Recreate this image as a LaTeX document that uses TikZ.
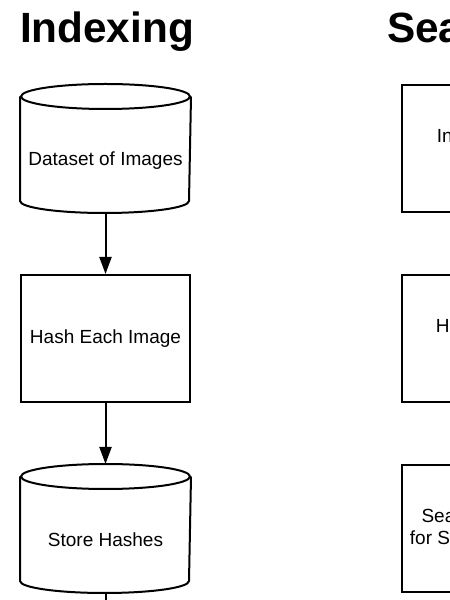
\documentclass[tikz,border=0pt]{standalone}
\usepackage{fontspec}
\setmainfont{Liberation Sans}
\usetikzlibrary{arrows.meta}
\begin{document}
\begin{tikzpicture}[x=1pt,y=1pt,
  line width=2pt,
  title/.style={anchor=base west,inner sep=0pt,font=\fontsize{42.3}{48}\selectfont\bfseries},
  boxnode/.style={draw,rectangle,minimum width=169pt,minimum height=127pt,inner sep=0pt,
     align=center,font=\fontsize{19}{22}\selectfont},
  cylframe/.style={rectangle,minimum width=169pt,minimum height=127pt,inner sep=0pt},
  cyltext/.style={inner sep=0pt,align=center,font=\fontsize{19}{22}\selectfont},
  arr/.style={-{Triangle[length=17pt,width=12pt]}}]
\useasboundingbox (0,0) rectangle (450,600);
\clip (0,0) rectangle (450,600);
\fill[white] (0,0) rectangle (450,600);
% titles
\node[title] (t1) at (19,557) {Indexing};
\node[title] (t2) at (386,557) {Search};
% left column
\node[cylframe] (c1) at (105.5,451.5) {};
\draw ([yshift=-12.5pt]c1.north west) -- ([yshift=12pt]c1.south west)
  arc[start angle=180,end angle=360,x radius=84.5pt,y radius=12pt]
  -- ([yshift=-12.5pt]c1.north east);
\draw ([yshift=-12.5pt]c1.north) ellipse [x radius=84.5pt,y radius=12.5pt];
\node[cyltext] (c1t) at (105.5,439.5) {Dataset of Images};
\node[boxnode] (b2) at (105.5,261.5) {Hash Each Image};
\node[cylframe] (c3) at (105.5,71.5) {};
\draw ([yshift=-12.5pt]c3.north west) -- ([yshift=12pt]c3.south west)
  arc[start angle=180,end angle=360,x radius=84.5pt,y radius=12pt]
  -- ([yshift=-12.5pt]c3.north east);
\draw ([yshift=-12.5pt]c3.north) ellipse [x radius=84.5pt,y radius=12.5pt];
\node[cyltext] (c3t) at (105.5,60) {Store Hashes};
\coordinate (out) at (105.5,-10);
\draw[arr] (c1.south) -- (b2.north);
\draw[arr] (b2.south) -- (c3.north);
\draw (c3.south) -- (out);
% right column
\node[boxnode] (r1) at (486.5,451) {Input Query\\Image};
\node[boxnode] (r2) at (486.5,261) {Hash Query\\Image};
\node[boxnode] (r3) at (486.5,71) {Search Hashes\\for Similar Images};
\end{tikzpicture}
\end{document}
